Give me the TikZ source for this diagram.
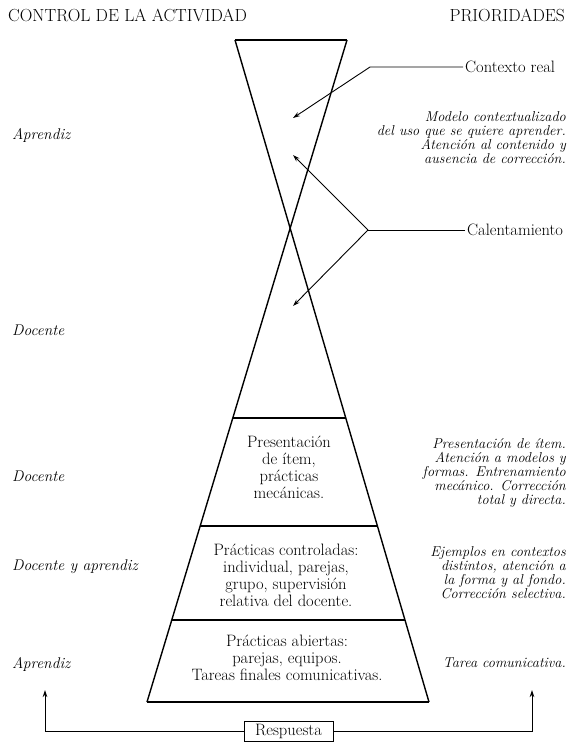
\documentclass[tikz,border=0pt]{standalone}
\usepackage{fontspec}
\usetikzlibrary{positioning,calc}
\usetikzlibrary{arrows.meta}

\begin{document}
\begin{tikzpicture}[
    x=1pt, y=-1pt,
    band/.style={
        align=center, inner sep=0pt, font=\fontsize{16.5}{17}\selectfont
    },
    prio/.style={
        align=right, anchor=east, inner sep=0pt, font=\fontsize{14.3}{14}\selectfont\itshape
    },
    ctrl/.style={
        anchor=west, inner sep=0pt, font=\fontsize{15.5}{16}\selectfont\itshape
    },
    head/.style={
        inner sep=0pt, font=\fontsize{17.5}{18}\selectfont
    },
    callout/.style={
        inner sep=2pt, font=\fontsize{16.5}{17}\selectfont
    },
    pointer/.style={
        -{Stealth[length=7pt,width=4.5pt]}, line width=0.9pt
    },
    edge/.style={line width=1.4pt}
]
\useasboundingbox (0,0) rectangle (572,742);

% Headings
\node[head, anchor=west] (ctl) at (8,15) {CONTROL DE LA ACTIVIDAD};
\node[head, anchor=east] (pri) at (565,15) {PRIORIDADES};

% Hourglass corners
\coordinate (tl) at (235,40);
\coordinate (tr) at (347,40);
\coordinate (bl) at (147,702);
\coordinate (br) at (429,702);

\draw[edge] (tl) -- (br);
\draw[edge] (tr) -- (bl);
\draw[edge] (tl) -- (tr);
\draw[edge] (bl) -- (br);

% Band separators
\foreach \t in {0.571,0.734,0.876}
{
    \draw[edge] ($(tl)!\t!(br)$) -- ($(tr)!\t!(bl)$);
}

% Band texts
\node[band] (b1) at (289,467) {Presentación\\de ítem,\\prácticas\\mecánicas.};
\node[band] (b2) at (286,575) {Prácticas controladas:\\individual, parejas,\\grupo, supervisión\\relativa del docente.};
\node[band] (b3) at (287,658) {Prácticas abiertas:\\parejas, equipos.\\Tareas finales comunicativas.};

% Left column
\node[ctrl] (c1) at (12,135) {Aprendiz};
\node[ctrl] (c2) at (12,330) {Docente};
\node[ctrl] (c3) at (12,476) {Docente};
\node[ctrl] (c4) at (12,567) {Docente y aprendiz};
\node[ctrl] (c5) at (12,664) {Aprendiz};

% Right column
\node[prio] (p1) at (566,138) {Modelo contextualizado\\del uso que se quiere aprender.\\Atención al contenido y\\ausencia de corrección.};
\node[prio] (p2) at (566,473) {Presentación de ítem.\\Atención a modelos y\\formas. Entrenamiento\\mecánico. Corrección\\total y directa.};
\node[prio] (p3) at (566,573) {Ejemplos en contextos\\distintos, atención a\\la forma y al fondo.\\Corrección selectiva.};
\node[prio] (p4) at (566,663) {Tarea comunicativa.};

% Callouts
\node[callout, anchor=west] (ctx) at (463,67) {Contexto real};
\node[callout, anchor=west] (cal) at (465,230) {Calentamiento};

\coordinate (ctxc) at (370,67);
\coordinate (calv) at (368,230);
\coordinate (tip1) at (293,118);
\coordinate (tip2) at (293,155);
\coordinate (tip3) at (293,306);

\draw[pointer] (ctx.west) -- (ctxc) -- (tip1);
\draw[line width=0.9pt] (cal.west) -- (calv);
\draw[pointer] (calv) -- (tip2);
\draw[pointer] (calv) -- (tip3);

% Feedback
\node[draw, line width=0.9pt, minimum width=89pt, minimum height=20pt, inner sep=0pt,
      font=\fontsize{16.5}{17}\selectfont] (resp) at (288.5,731) {Respuesta};
\coordinate (lret) at (45,690);
\coordinate (rret) at (532,690);
\draw[pointer] (resp.west) -| (lret);
\draw[pointer] (resp.east) -| (rret);

\end{tikzpicture}
\end{document}
